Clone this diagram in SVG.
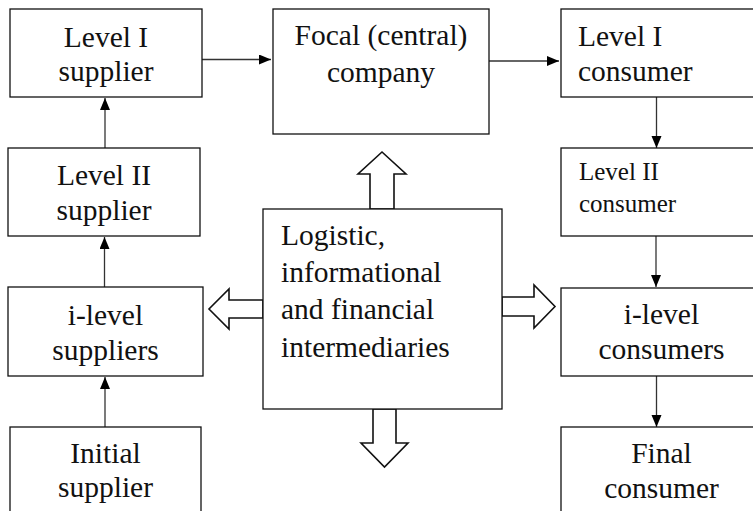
<svg xmlns="http://www.w3.org/2000/svg" width="753" height="511" viewBox="0 0 753 511">
<style>
.box{fill:#fff;stroke:#111;stroke-width:1.3}
.t{font-family:'Liberation Serif','Times New Roman',serif;font-size:29.5px;fill:#111}
.c{text-anchor:middle}
.s{font-size:25px}
.ln{stroke:#333;stroke-width:1.3;fill:none;marker-end:url(#ah)}
.big{fill:#fff;stroke:#111;stroke-width:1.6;stroke-linejoin:miter}
</style>
<defs>
<marker id="ah" markerUnits="userSpaceOnUse" markerWidth="13" markerHeight="11" refX="12" refY="5" orient="auto">
<path d="M0,0 L12,5 L0,10 z" fill="#000"/>
</marker>
</defs>
<rect width="753" height="511" fill="#fff"/>
<g id="connectors">
<line class="ln" x1="202" y1="59.5" x2="271" y2="59.5"/>
<line class="ln" x1="489" y1="61" x2="559" y2="61"/>
<line class="ln" x1="105" y1="148" x2="105" y2="98"/>
<line class="ln" x1="104.5" y1="287" x2="104.5" y2="237"/>
<line class="ln" x1="105" y1="427" x2="105" y2="377"/>
<line class="ln" x1="656.5" y1="97" x2="656.5" y2="148"/>
<line class="ln" x1="656" y1="236" x2="656" y2="287"/>
<line class="ln" x1="656.5" y1="376" x2="656.5" y2="427"/>
<polygon class="big" points="370,209 370,174 358,174 382,152 406,174 394,174 394,209"/>
<polygon class="big" points="373,409 373,443 361,443 384.5,467 408,443 396,443 396,409"/>
<polygon class="big" points="502,297 534,297 534,285 555,306.5 534,328 534,316 502,316"/>
<polygon class="big" points="263,300 229,300 229,289 209,309 229,329 229,318 263,318"/>
</g>
<g id="level1-supplier">
<rect class="box" x="10" y="9" width="192" height="88"/>
<text class="t c" x="106" y="46.5">Level I</text>
<text class="t c" x="106" y="81">supplier</text>
</g>
<g id="level2-supplier">
<rect class="box" x="8" y="148" width="192" height="88"/>
<text class="t c" x="104" y="185">Level II</text>
<text class="t c" x="104" y="220">supplier</text>
</g>
<g id="ilevel-suppliers">
<rect class="box" x="8" y="287" width="195" height="89"/>
<text class="t c" x="105.5" y="325">i-level</text>
<text class="t c" x="105.5" y="360">suppliers</text>
</g>
<g id="initial-supplier">
<rect class="box" x="10" y="427" width="191" height="110"/>
<text class="t c" x="105.5" y="463">Initial</text>
<text class="t c" x="105.5" y="497">supplier</text>
</g>
<g id="focal-company">
<rect class="box" x="273" y="9" width="216" height="125"/>
<text class="t c" x="381" y="45">Focal (central)</text>
<text class="t c" x="381" y="81.5">company</text>
</g>
<g id="intermediaries">
<rect class="box" x="263" y="209" width="239" height="200"/>
<text class="t" x="281" y="245">Logistic,</text>
<text class="t" x="281" y="282">informational</text>
<text class="t" x="281" y="319">and financial</text>
<text class="t" x="281" y="356.5">intermediaries</text>
</g>
<g id="level1-consumer">
<rect class="box" x="561" y="9" width="210" height="88"/>
<text class="t" x="578" y="45.5">Level I</text>
<text class="t" x="578" y="81">consumer</text>
</g>
<g id="level2-consumer">
<rect class="box" x="561" y="148" width="210" height="88"/>
<text class="t s" x="579" y="180">Level II</text>
<text class="t s" x="579" y="212">consumer</text>
</g>
<g id="ilevel-consumers">
<rect class="box" x="561" y="288" width="210" height="88"/>
<text class="t c" x="661.5" y="323.5">i-level</text>
<text class="t c" x="661.5" y="358.5">consumers</text>
</g>
<g id="final-consumer">
<rect class="box" x="561" y="427" width="210" height="110"/>
<text class="t c" x="661.5" y="463">Final</text>
<text class="t c" x="661.5" y="498">consumer</text>
</g>
</svg>
